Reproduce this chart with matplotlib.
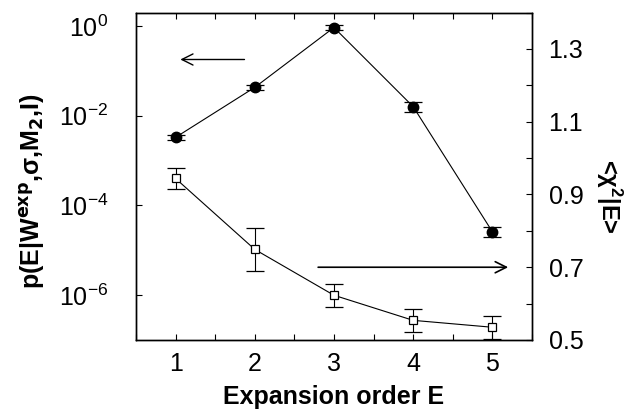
import numpy as np
import matplotlib
matplotlib.use('Agg')
import matplotlib.pyplot as plt
from matplotlib.ticker import FixedLocator, MultipleLocator, NullLocator

plt.rcParams['font.family'] = ['Liberation Sans', 'DejaVu Sans']
plt.rcParams['mathtext.default'] = 'regular'
plt.rcParams['font.size'] = 18

order = [1, 2, 3, 4, 5]
prob = [3.3e-3, 0.043, 0.93, 0.016, 2.6e-5]
prob_err_dec = [0.05, 0.055, 0.065, 0.11, 0.11]   # error bar half-length in decades
chi2 = [0.944, 0.749, 0.623, 0.554, 0.535]
chi2_err = [0.028, 0.058, 0.031, 0.032, 0.031]

prob = np.array(prob)
fac = 10.0**np.array(prob_err_dec)
prob_yerr = [prob - prob/fac, prob*fac - prob]

fig = plt.figure(figsize=(6.31, 4.2), dpi=100)
ax = fig.add_axes([0.2155, 0.1905, 0.6275, 0.7795])
ax2 = ax.twinx()

ax.errorbar(order, prob, yerr=prob_yerr, fmt='-o', color='k', lw=0.8,
            ms=7.5, capsize=6.5, elinewidth=0.8, capthick=0.9)
ax2.errorbar(order, chi2, yerr=chi2_err, fmt='-s', color='k', lw=0.8,
             ms=6, mfc='white', mec='k', mew=0.9, capsize=6.5,
             elinewidth=0.8, capthick=0.9)

ax.set_yscale('log')
ax.set_ylim(1e-7, 2.0)
ax.set_xlim(0.5, 5.5)
ax2.set_ylim(0.5, 1.4)

ax.yaxis.set_major_locator(FixedLocator([1e-6, 1e-4, 1e-2, 1e0]))
ax.yaxis.set_minor_locator(NullLocator())
ax.xaxis.set_major_locator(MultipleLocator(1))
ax.xaxis.set_minor_locator(MultipleLocator(0.5))
ax2.yaxis.set_minor_locator(MultipleLocator(0.1))
ax2.set_yticks([0.5, 0.7, 0.9, 1.1, 1.3])
ax2.set_yticklabels(['0.5', '0.7', '0.9', '1.1', '1.3'])

ax.tick_params(axis='x', which='both', direction='in', top=True, length=4, width=0.8, pad=9)
ax.tick_params(axis='y', which='both', direction='in', length=4, width=0.8, pad=20)
ax2.tick_params(axis='y', which='both', direction='in', length=4, width=0.8, pad=12)
for a in (ax, ax2):
    for s in a.spines.values():
        s.set_linewidth(1.0)

ax.set_xlabel('Expansion order E', fontweight='bold', fontsize=18, labelpad=6)
ax.set_ylabel(r'p(E|W$^{\mathbf{exp}}$,$\sigma$,M$_{\mathbf{2}}$,I)',
              fontweight='bold', fontsize=18, va='center')
ax.yaxis.set_label_coords(-0.262, 0.455)
ax2.set_ylabel(r'<$\chi^2$|E>', fontweight='bold', fontsize=17,
               rotation=270, va='center')
ax2.yaxis.set_label_coords(1.195, 0.44)

ax.annotate('', xy=(1.06, 0.18), xytext=(1.87, 0.18),
            arrowprops=dict(arrowstyle='->', lw=1.0, color='k',
                            mutation_scale=20, shrinkA=0, shrinkB=0))
ax2.annotate('', xy=(5.2, 0.7), xytext=(2.8, 0.7),
             arrowprops=dict(arrowstyle='->', lw=1.2, color='k',
                             mutation_scale=20, shrinkA=0, shrinkB=0))

fig.savefig('out.png', dpi=100)
